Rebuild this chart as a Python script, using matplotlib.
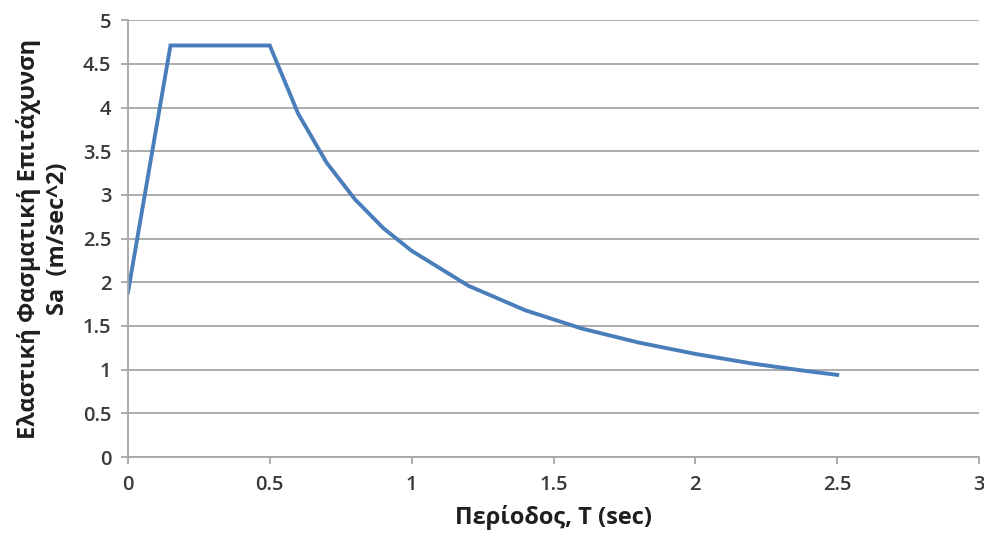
import matplotlib
matplotlib.use("Agg")
import matplotlib.pyplot as plt

# Elastic response spectrum: period T (sec) vs spectral acceleration Sa (m/sec^2)
period = [0.0, 0.15, 0.5, 0.6, 0.7, 0.8, 0.9, 1.0, 1.2, 1.4, 1.6, 1.8, 2.0, 2.2, 2.4, 2.5]
sa = [1.88, 4.71, 4.71, 3.93, 3.37, 2.95, 2.62, 2.36, 1.96, 1.68, 1.47, 1.31, 1.18, 1.07, 0.98, 0.94]

x_ticks = [0, 0.5, 1, 1.5, 2, 2.5, 3]
x_tick_labels = ["0", "0.5", "1", "1.5", "2", "2.5", "3"]
y_ticks = [0, 0.5, 1, 1.5, 2, 2.5, 3, 3.5, 4, 4.5, 5]
y_tick_labels = ["0", "0.5", "1", "1.5", "2", "2.5", "3", "3.5", "4", "4.5", "5"]

x_label = "Περίοδος, T (sec)"
y_label = "Ελαστική Φασματική Επιτάχυνση\nSa  (m/sec^2)"

plt.rcParams["font.family"] = ["Open Sans", "DejaVu Sans"]

fig = plt.figure(figsize=(9.84, 5.4), dpi=100)
ax = fig.add_axes([0.130, 0.1537, 0.865, 0.809])

grid_color = "#a6a6a6"
ax.set_xlim(0, 3)
ax.set_ylim(0, 5)
ax.set_yticks(y_ticks)
ax.set_yticklabels(y_tick_labels, fontweight="semibold")
ax.set_xticks(x_ticks)
ax.set_xticklabels(x_tick_labels, fontweight="semibold")
ax.yaxis.grid(True, color=grid_color, linewidth=1.3)
ax.set_axisbelow(True)

for side in ("top", "right"):
    ax.spines[side].set_visible(False)
for side in ("left", "bottom"):
    ax.spines[side].set_color(grid_color)
    ax.spines[side].set_linewidth(1.3)

ax.tick_params(axis="both", colors=grid_color, width=1.3, length=5,
               labelcolor="#3a3a3a", labelsize=14.5)
ax.tick_params(axis="x", pad=8)
ax.tick_params(axis="y", pad=7)

ax.plot(period, sa, color="#4a7ebb", linewidth=2.8, solid_joinstyle="miter")

ax.set_xlabel(x_label, fontsize=17, fontweight="bold", color="#1f1f1f", labelpad=7)
ax.set_ylabel(y_label, fontsize=17, fontweight="bold", color="#1f1f1f",
              labelpad=9, linespacing=1.3)

fig.savefig("out.png", dpi=100, facecolor="white")
